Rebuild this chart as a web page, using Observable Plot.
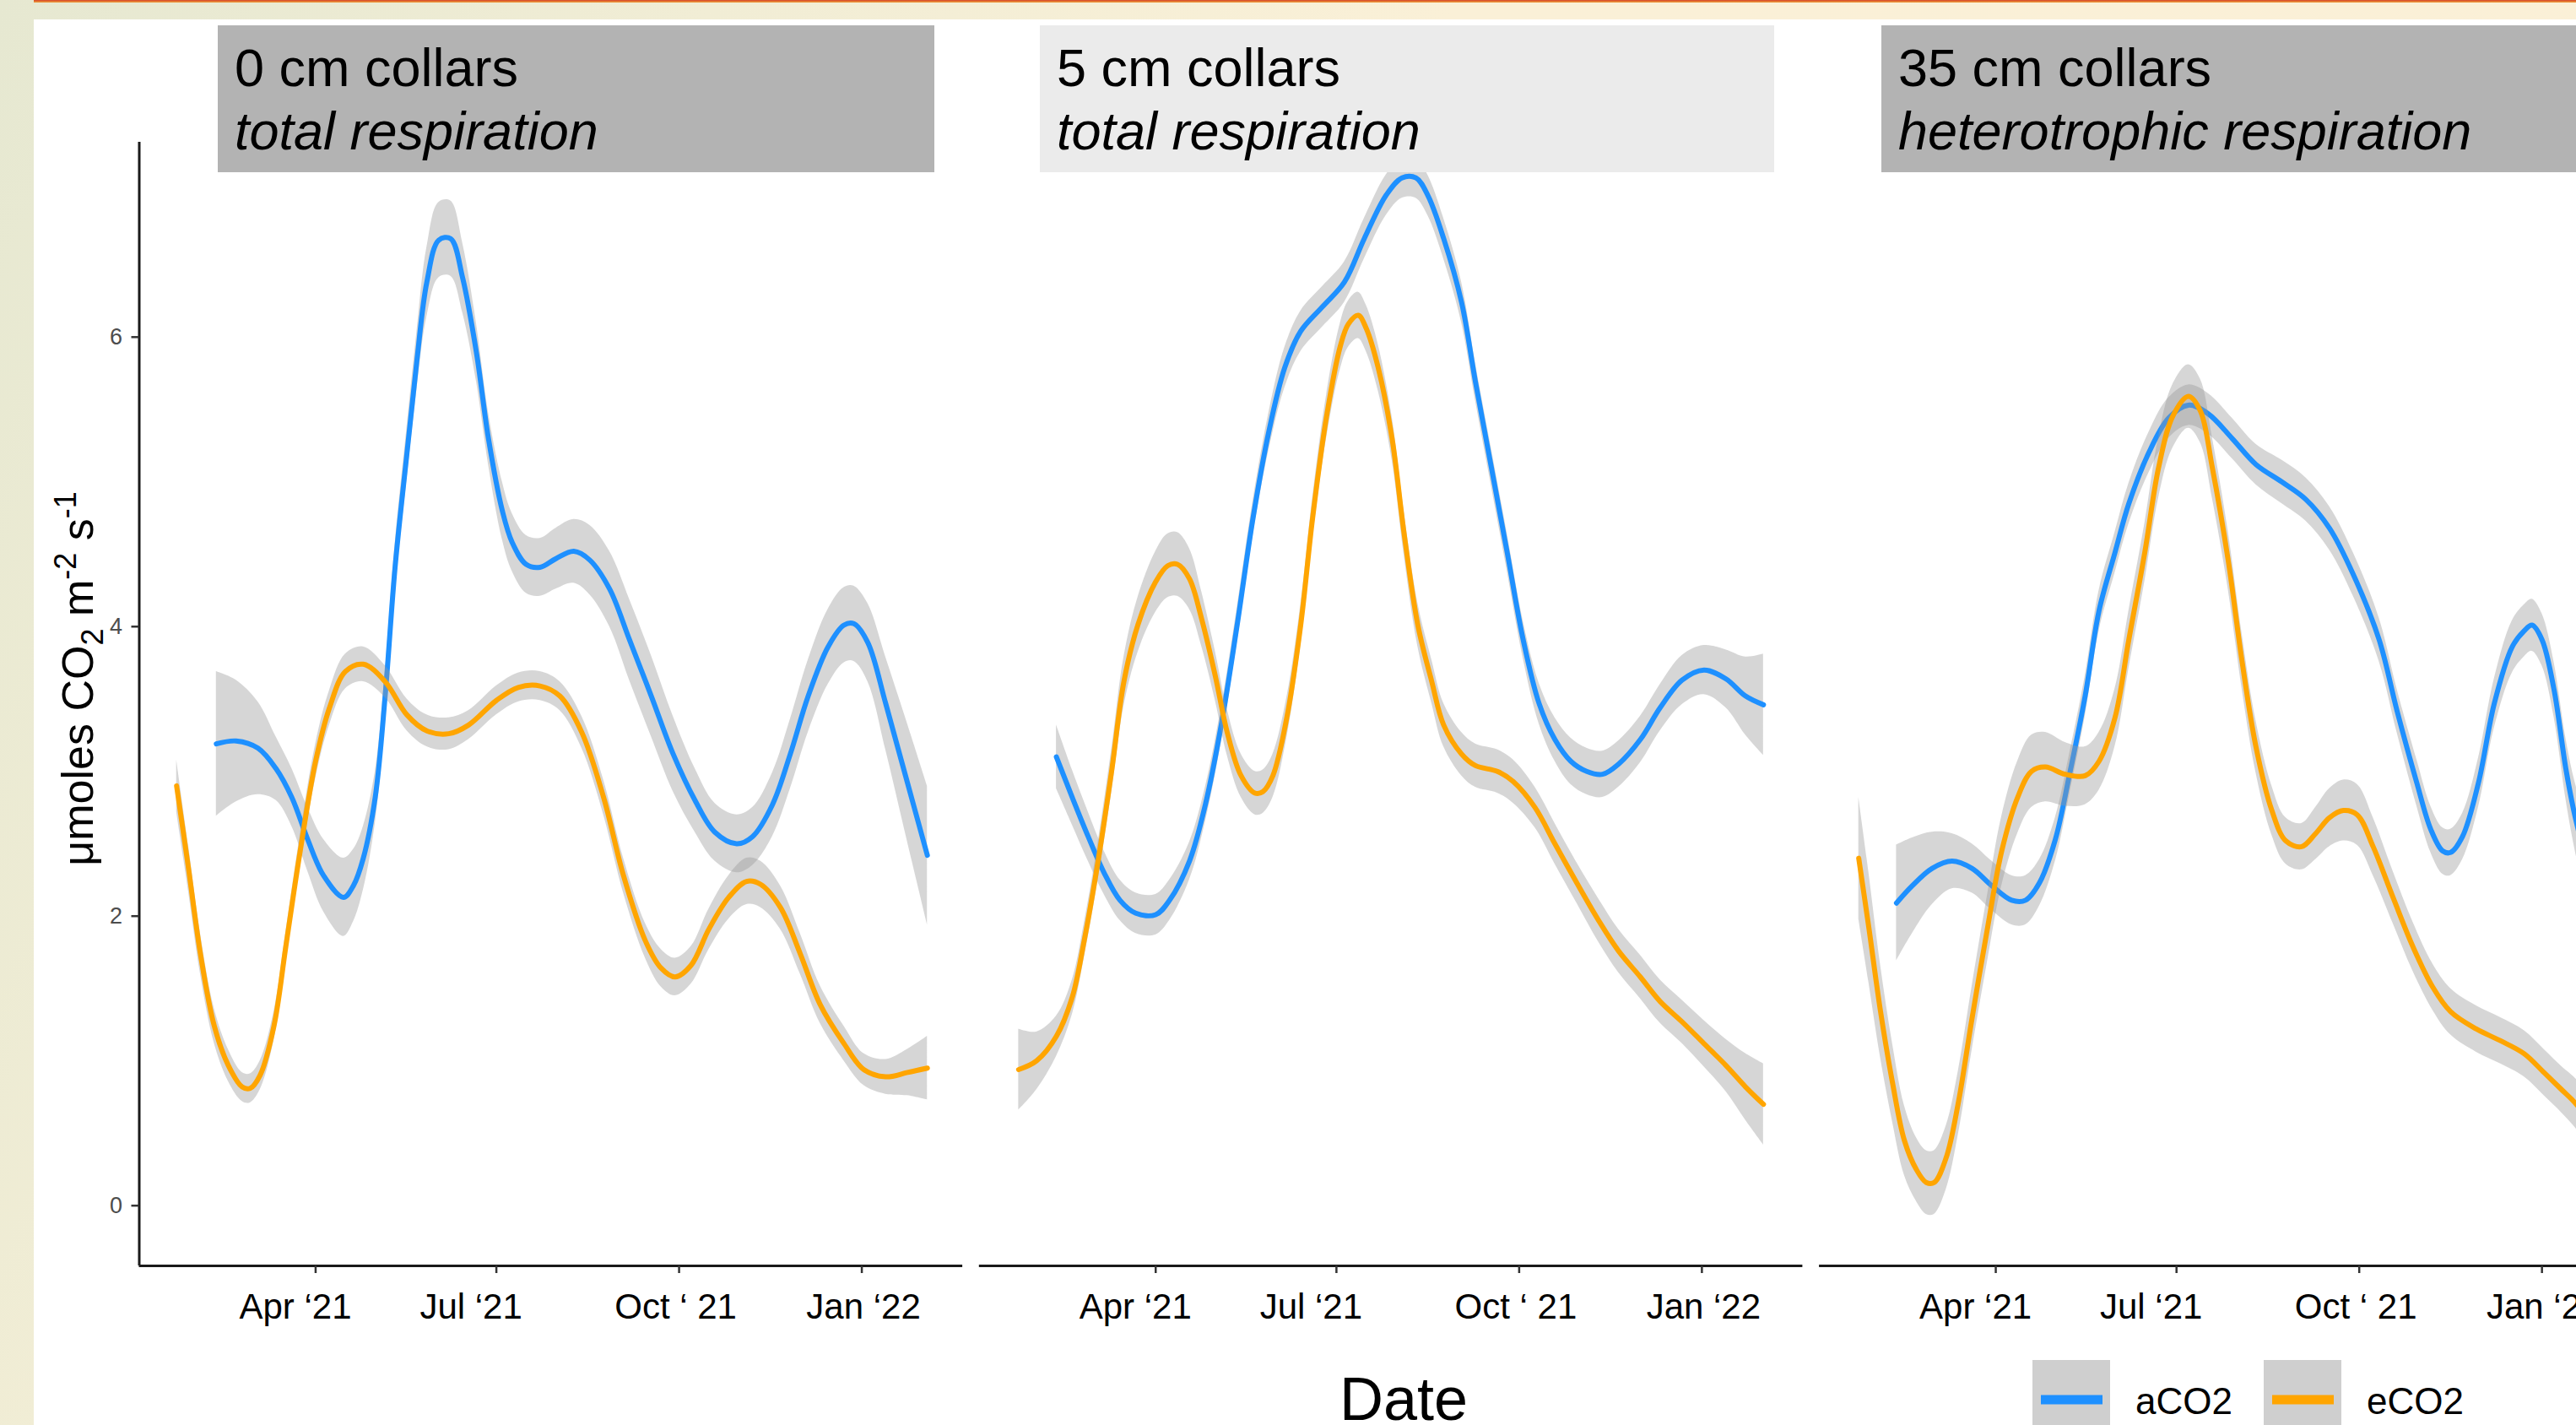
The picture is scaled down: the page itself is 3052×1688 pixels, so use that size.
<!DOCTYPE html>
<html>
<head>
<meta charset="utf-8">
<script src="https://cdn.jsdelivr.net/npm/d3@7"></script>
<script src="https://cdn.jsdelivr.net/npm/@observablehq/plot@0.6"></script>
<style>
  html, body { margin: 0; padding: 0; }
  body {
    width: 3052px; height: 1688px; overflow: hidden; position: relative;
    background: linear-gradient(115deg, #e6e8d1 0%, #f1edd5 22%, #faf0d7 45%, #fbf0d7 100%);
    font-family: "Liberation Sans", Arial, sans-serif;
  }
  #white { position: absolute; left: 40px; top: 23px; right: 0; bottom: 0; background: #ffffff; }
  #topline { position: absolute; left: 40px; top: 0; right: 0; height: 3px; background: linear-gradient(#d4432b, #f0a23a); }
  #chart { position: absolute; left: 0; top: 0; }
  #overlay { position: absolute; left: 0; top: 0; }
</style>
</head>
<body>
<div id="white"></div>
<div id="topline"></div>
<div id="chart"></div>
<svg id="overlay" width="3052" height="1688" font-family="'Liberation Sans', Arial, sans-serif"></svg>
<script>
// ---------------- data ----------------
const panels = ["0 cm collars", "5 cm collars", "35 cm collars"];
const panelSubtitles = ["total respiration", "total respiration", "heterotrophic respiration"];
const seriesNames = ["aCO2", "eCO2"];
const seriesColors = ["#1E90FF", "#FFA500"];
const tickDates = ["2021-04-01", "2021-07-01", "2021-10-01", "2022-01-01"];
const tickLabels = ["Apr \u201821", "Jul \u201821", "Oct \u2018 21", "Jan \u201822"];
const yTicks = [0, 2, 4, 6];

// [date, fitted value, CI half-width]
const p0_aCO2 = [
  ["2021-02-10", 3.19, 0.50], ["2021-02-20", 3.21, 0.42], ["2021-03-03", 3.16, 0.32], ["2021-03-12", 3.02, 0.22],
  ["2021-03-20", 2.82, 0.20], ["2021-03-28", 2.53, 0.22], ["2021-04-05", 2.28, 0.25], ["2021-04-15", 2.13, 0.27],
  ["2021-04-20", 2.21, 0.25], ["2021-04-25", 2.40, 0.22], ["2021-05-01", 2.82, 0.18], ["2021-05-06", 3.52, 0.16],
  ["2021-05-11", 4.41, 0.16], ["2021-05-17", 5.20, 0.18], ["2021-05-22", 5.84, 0.20], ["2021-05-27", 6.38, 0.24],
  ["2021-06-02", 6.67, 0.26], ["2021-06-08", 6.68, 0.26], ["2021-06-14", 6.41, 0.24], ["2021-06-21", 5.89, 0.20],
  ["2021-06-27", 5.30, 0.18], ["2021-07-04", 4.80, 0.20], ["2021-07-09", 4.58, 0.20], ["2021-07-16", 4.43, 0.20],
  ["2021-07-23", 4.41, 0.20], ["2021-07-31", 4.47, 0.21], ["2021-08-09", 4.52, 0.22], ["2021-08-17", 4.46, 0.24],
  ["2021-08-27", 4.26, 0.26], ["2021-09-06", 3.91, 0.28], ["2021-09-17", 3.52, 0.28], ["2021-09-28", 3.12, 0.26],
  ["2021-10-09", 2.80, 0.22], ["2021-10-19", 2.58, 0.20], ["2021-10-30", 2.50, 0.20], ["2021-11-07", 2.55, 0.20],
  ["2021-11-17", 2.77, 0.22], ["2021-11-26", 3.12, 0.24], ["2021-12-05", 3.52, 0.25], ["2021-12-15", 3.86, 0.26],
  ["2021-12-23", 4.01, 0.26], ["2021-12-28", 4.02, 0.26], ["2022-01-04", 3.89, 0.27], ["2022-01-13", 3.47, 0.32],
  ["2022-01-23", 2.97, 0.40], ["2022-02-03", 2.42, 0.48]
];
const p0_eCO2 = [
  ["2021-01-21", 2.90, 0.18], ["2021-01-27", 2.33, 0.16], ["2021-02-02", 1.74, 0.14], ["2021-02-09", 1.24, 0.12],
  ["2021-02-16", 0.97, 0.11], ["2021-02-23", 0.82, 0.10], ["2021-02-27", 0.81, 0.10], ["2021-03-04", 0.90, 0.10],
  ["2021-03-11", 1.24, 0.10], ["2021-03-17", 1.79, 0.10], ["2021-03-24", 2.43, 0.11], ["2021-04-01", 3.07, 0.12],
  ["2021-04-08", 3.44, 0.12], ["2021-04-16", 3.69, 0.12], ["2021-04-25", 3.74, 0.12], ["2021-05-06", 3.62, 0.11],
  ["2021-05-17", 3.39, 0.11], ["2021-05-27", 3.28, 0.11], ["2021-06-07", 3.26, 0.11], ["2021-06-17", 3.32, 0.10],
  ["2021-07-01", 3.49, 0.10], ["2021-07-12", 3.58, 0.10], ["2021-07-23", 3.59, 0.10], ["2021-08-02", 3.52, 0.10],
  ["2021-08-13", 3.27, 0.11], ["2021-08-24", 2.82, 0.12], ["2021-09-03", 2.28, 0.12], ["2021-09-14", 1.83, 0.12],
  ["2021-09-22", 1.64, 0.13], ["2021-09-29", 1.58, 0.13], ["2021-10-07", 1.66, 0.13], ["2021-10-16", 1.91, 0.14],
  ["2021-10-26", 2.13, 0.15], ["2021-11-04", 2.24, 0.16], ["2021-11-11", 2.22, 0.16], ["2021-11-21", 2.06, 0.15],
  ["2021-12-01", 1.74, 0.14], ["2021-12-11", 1.39, 0.13], ["2021-12-23", 1.12, 0.12], ["2022-01-02", 0.94, 0.11],
  ["2022-01-13", 0.89, 0.12], ["2022-01-24", 0.92, 0.16], ["2022-02-03", 0.95, 0.22]
];
const p1_aCO2 = [
  ["2021-02-10", 3.10, 0.22], ["2021-02-18", 2.82, 0.19], ["2021-02-26", 2.55, 0.17], ["2021-03-06", 2.30, 0.15],
  ["2021-03-14", 2.11, 0.14], ["2021-03-22", 2.02, 0.14], ["2021-04-01", 2.01, 0.14], ["2021-04-08", 2.11, 0.14],
  ["2021-04-18", 2.38, 0.13], ["2021-04-26", 2.77, 0.12], ["2021-05-04", 3.32, 0.12], ["2021-05-12", 4.01, 0.12],
  ["2021-05-20", 4.75, 0.12], ["2021-05-28", 5.35, 0.13], ["2021-06-05", 5.79, 0.14], ["2021-06-13", 6.04, 0.14],
  ["2021-06-24", 6.21, 0.14], ["2021-07-05", 6.38, 0.14], ["2021-07-15", 6.68, 0.14], ["2021-07-26", 6.98, 0.14],
  ["2021-08-03", 7.10, 0.14], ["2021-08-10", 7.10, 0.14], ["2021-08-16", 6.98, 0.14], ["2021-08-24", 6.68, 0.14],
  ["2021-09-02", 6.24, 0.14], ["2021-09-09", 5.69, 0.13], ["2021-09-17", 5.10, 0.13], ["2021-09-25", 4.51, 0.13],
  ["2021-10-03", 3.91, 0.13], ["2021-10-11", 3.47, 0.14], ["2021-10-19", 3.22, 0.15], ["2021-10-27", 3.07, 0.16],
  ["2021-11-04", 3.00, 0.16], ["2021-11-12", 2.98, 0.16], ["2021-11-20", 3.05, 0.16], ["2021-12-01", 3.22, 0.16],
  ["2021-12-11", 3.44, 0.16], ["2021-12-22", 3.63, 0.17], ["2022-01-02", 3.70, 0.17], ["2022-01-13", 3.64, 0.20],
  ["2022-01-23", 3.52, 0.27], ["2022-02-01", 3.46, 0.35]
];
const p1_eCO2 = [
  ["2021-01-22", 0.94, 0.28], ["2021-01-31", 1.00, 0.20], ["2021-02-10", 1.17, 0.14], ["2021-02-18", 1.44, 0.12],
  ["2021-02-24", 1.83, 0.12], ["2021-03-03", 2.38, 0.13], ["2021-03-10", 3.02, 0.15], ["2021-03-16", 3.62, 0.17],
  ["2021-03-23", 4.01, 0.19], ["2021-04-01", 4.31, 0.21], ["2021-04-07", 4.42, 0.22], ["2021-04-12", 4.43, 0.22],
  ["2021-04-18", 4.33, 0.21], ["2021-04-24", 4.06, 0.19], ["2021-05-01", 3.66, 0.17], ["2021-05-07", 3.27, 0.16],
  ["2021-05-14", 2.97, 0.15], ["2021-05-21", 2.85, 0.15], ["2021-05-25", 2.86, 0.15], ["2021-05-30", 2.97, 0.15],
  ["2021-06-06", 3.37, 0.14], ["2021-06-13", 4.01, 0.14], ["2021-06-19", 4.75, 0.14], ["2021-06-26", 5.45, 0.15],
  ["2021-07-03", 5.94, 0.16], ["2021-07-07", 6.09, 0.16], ["2021-07-12", 6.15, 0.16], ["2021-07-16", 6.06, 0.16],
  ["2021-07-22", 5.79, 0.16], ["2021-07-29", 5.30, 0.15], ["2021-08-04", 4.65, 0.15], ["2021-08-11", 4.01, 0.15],
  ["2021-08-18", 3.62, 0.15], ["2021-08-24", 3.32, 0.15], ["2021-09-02", 3.12, 0.15], ["2021-09-09", 3.04, 0.15],
  ["2021-09-20", 3.00, 0.15], ["2021-09-28", 2.93, 0.15], ["2021-10-09", 2.75, 0.14], ["2021-10-19", 2.50, 0.14],
  ["2021-10-30", 2.23, 0.14], ["2021-11-10", 1.97, 0.15], ["2021-11-20", 1.76, 0.15], ["2021-12-01", 1.58, 0.15],
  ["2021-12-11", 1.41, 0.15], ["2021-12-22", 1.27, 0.15], ["2022-01-02", 1.12, 0.16], ["2022-01-13", 0.97, 0.18],
  ["2022-01-23", 0.82, 0.23], ["2022-02-01", 0.70, 0.28]
];
const p2_aCO2 = [
  ["2021-02-10", 2.09, 0.40], ["2021-02-18", 2.21, 0.33], ["2021-02-28", 2.33, 0.25], ["2021-03-10", 2.38, 0.19],
  ["2021-03-20", 2.33, 0.17], ["2021-03-30", 2.21, 0.17], ["2021-04-09", 2.11, 0.17], ["2021-04-16", 2.11, 0.17],
  ["2021-04-23", 2.23, 0.16], ["2021-05-01", 2.53, 0.15], ["2021-05-08", 2.97, 0.14], ["2021-05-16", 3.52, 0.14],
  ["2021-05-23", 4.11, 0.14], ["2021-05-31", 4.51, 0.14], ["2021-06-07", 4.85, 0.14], ["2021-06-17", 5.20, 0.14],
  ["2021-06-27", 5.44, 0.14], ["2021-07-07", 5.53, 0.14], ["2021-07-17", 5.47, 0.14], ["2021-07-29", 5.30, 0.14],
  ["2021-08-10", 5.12, 0.14], ["2021-08-23", 5.00, 0.15], ["2021-09-04", 4.88, 0.15], ["2021-09-16", 4.68, 0.15],
  ["2021-09-28", 4.36, 0.15], ["2021-10-11", 3.91, 0.15], ["2021-10-20", 3.42, 0.15], ["2021-10-30", 2.92, 0.16],
  ["2021-11-06", 2.60, 0.16], ["2021-11-12", 2.45, 0.16], ["2021-11-16", 2.44, 0.16], ["2021-11-22", 2.55, 0.16],
  ["2021-11-30", 2.92, 0.17], ["2021-12-08", 3.47, 0.17], ["2021-12-17", 3.86, 0.18], ["2021-12-23", 3.97, 0.18],
  ["2021-12-27", 4.01, 0.18], ["2022-01-01", 3.91, 0.18], ["2022-01-07", 3.57, 0.19], ["2022-01-13", 3.02, 0.21],
  ["2022-01-17", 2.73, 0.23], ["2022-01-21", 2.50, 0.26]
];
const p2_eCO2 = [
  ["2021-01-22", 2.40, 0.42], ["2021-01-27", 1.93, 0.38], ["2021-02-02", 1.34, 0.32], ["2021-02-08", 0.85, 0.27],
  ["2021-02-14", 0.45, 0.24], ["2021-02-20", 0.25, 0.22], ["2021-02-25", 0.16, 0.22], ["2021-03-01", 0.16, 0.22],
  ["2021-03-07", 0.33, 0.22], ["2021-03-13", 0.70, 0.22], ["2021-03-20", 1.29, 0.22], ["2021-03-28", 1.93, 0.23],
  ["2021-04-04", 2.45, 0.24], ["2021-04-12", 2.82, 0.25], ["2021-04-19", 3.00, 0.25], ["2021-04-26", 3.03, 0.24],
  ["2021-05-06", 2.98, 0.22], ["2021-05-16", 2.97, 0.20], ["2021-05-23", 3.07, 0.20], ["2021-05-31", 3.37, 0.20],
  ["2021-06-07", 3.91, 0.20], ["2021-06-15", 4.51, 0.20], ["2021-06-22", 5.10, 0.21], ["2021-06-29", 5.45, 0.22],
  ["2021-07-07", 5.59, 0.22], ["2021-07-13", 5.49, 0.22], ["2021-07-19", 5.10, 0.21], ["2021-07-27", 4.46, 0.20],
  ["2021-08-03", 3.76, 0.19], ["2021-08-10", 3.17, 0.18], ["2021-08-18", 2.73, 0.17], ["2021-08-25", 2.52, 0.16],
  ["2021-09-02", 2.48, 0.16], ["2021-09-09", 2.57, 0.18], ["2021-09-16", 2.68, 0.20], ["2021-09-23", 2.73, 0.21],
  ["2021-09-30", 2.70, 0.21], ["2021-10-08", 2.48, 0.20], ["2021-10-18", 2.13, 0.18], ["2021-10-28", 1.79, 0.17],
  ["2021-11-07", 1.51, 0.16], ["2021-11-16", 1.34, 0.16], ["2021-11-29", 1.22, 0.16], ["2021-12-11", 1.14, 0.16],
  ["2021-12-23", 1.05, 0.16], ["2022-01-02", 0.92, 0.16], ["2022-01-11", 0.80, 0.16], ["2022-01-17", 0.72, 0.17],
  ["2022-01-22", 0.64, 0.18]
];
const seriesData = [[p0_aCO2, p0_eCO2], [p1_aCO2, p1_eCO2], [p2_aCO2, p2_eCO2]];

// ---------------- build table ----------------
const rows = [];
seriesData.forEach((pair, i) => pair.forEach((arr, j) => arr.forEach(([d, v, c]) => rows.push({
  panel: panels[i], series: seriesNames[j], date: new Date(d), value: v, lo: v - c, hi: v + c
}))));

const xDomain = [new Date("2021-01-02T05:00Z"), new Date("2022-02-20T19:00Z")];
const yDomain = [-0.416, 7.346];

const lineMarks = seriesNames.flatMap((s) => {
  const sub = rows.filter((r) => r.series === s);
  return [
    Plot.areaY(sub, {fx: "panel", x: "date", y1: "lo", y2: "hi", fill: "#999999", fillOpacity: 0.4, curve: "catmull-rom"}),
    Plot.lineY(sub, {fx: "panel", x: "date", y: "value", stroke: "series", strokeWidth: 6, curve: "catmull-rom"})
  ];
});

const labelShift = [-24, -30, -4, 2];
const xLabelMarks = tickDates.map((d, i) => Plot.axisX({
  ticks: [new Date(d)], tickFormat: () => tickLabels[i], tickSize: 0, tickPadding: 33,
  fontSize: 42, fill: "#000", stroke: "none", dx: labelShift[i], label: null
}));

const chart = Plot.plot({
  width: 3132, height: 1600,
  marginLeft: 164.5, marginRight: 1.3, marginTop: 168, marginBottom: 101,
  style: "background: transparent; max-width: none; overflow: visible; font-family: 'Liberation Sans', Arial, sans-serif;",
  fx: {domain: panels, axis: null, label: null, paddingInner: 0.0198, paddingOuter: 0, round: false},
  x: {type: "utc", domain: xDomain},
  y: {domain: yDomain},
  color: {domain: seriesNames, range: seriesColors},
  marks: [
    ...lineMarks,
    Plot.ruleY([yDomain[0]], {stroke: "#1a1a1a", strokeWidth: 3}),
    Plot.ruleX([xDomain[0]], {stroke: "#1a1a1a", strokeWidth: 3, facetAnchor: "left"}),
    Plot.axisX({ticks: tickDates.map((d) => new Date(d)), tickSize: 9, stroke: "#333", strokeWidth: 2.5, fill: "none", label: null}),
    ...xLabelMarks,
    Plot.axisY({ticks: yTicks, tickSize: 9, tickPadding: 11, fontSize: 27, fill: "#4d4d4d", stroke: "#333",
      strokeWidth: 2.5, label: null, facetAnchor: "left"})
  ]
});
document.getElementById("chart").appendChild(chart);

// ---------------- strips, titles, legend ----------------
const ov = d3.select("#overlay");
const stripBoxes = [[258, 849, "#b3b3b3"], [1232, 870, "#ebebeb"], [2229, 900, "#b3b3b3"]];
stripBoxes.forEach(([x, w, fill], i) => {
  ov.append("rect").attr("x", x).attr("y", 30).attr("width", w).attr("height", 174).attr("fill", fill);
  ov.append("text").attr("x", x + 20).attr("y", 102).attr("font-size", 63).attr("fill", "#000").text(panels[i]);
  ov.append("text").attr("x", x + 20).attr("y", 177).attr("font-size", 63).attr("font-style", "italic")
    .attr("fill", "#000").text(panelSubtitles[i]);
});

// y-axis title with sub/superscripts
const yt = ov.append("text").attr("transform", "translate(110,804) rotate(-90)")
  .attr("text-anchor", "middle").attr("font-size", 52).attr("fill", "#000");
yt.append("tspan").text("\u03bcmoles CO");
yt.append("tspan").attr("font-size", 36).attr("dy", 12).text("2");
yt.append("tspan").attr("dy", -12).text(" m");
yt.append("tspan").attr("font-size", 36).attr("dy", -20).text("-2");
yt.append("tspan").attr("dy", 20).text(" s");
yt.append("tspan").attr("font-size", 36).attr("dy", -20).text("-1");

// x-axis title
ov.append("text").attr("x", 1663).attr("y", 1682).attr("text-anchor", "middle")
  .attr("font-size", 72).attr("fill", "#000").text("Date");

// legend
const legendX = [2408, 2682];
seriesNames.forEach((s, i) => {
  const x = legendX[i];
  ov.append("rect").attr("x", x).attr("y", 1611).attr("width", 92).attr("height", 92).attr("fill", "#cfcfcf");
  ov.append("line").attr("x1", x + 10).attr("x2", x + 83).attr("y1", 1658).attr("y2", 1658)
    .attr("stroke", seriesColors[i]).attr("stroke-width", 11);
  ov.append("text").attr("x", x + 122).attr("y", 1675).attr("font-size", 44).attr("fill", "#000").text(s);
});
</script>
</body>
</html>
